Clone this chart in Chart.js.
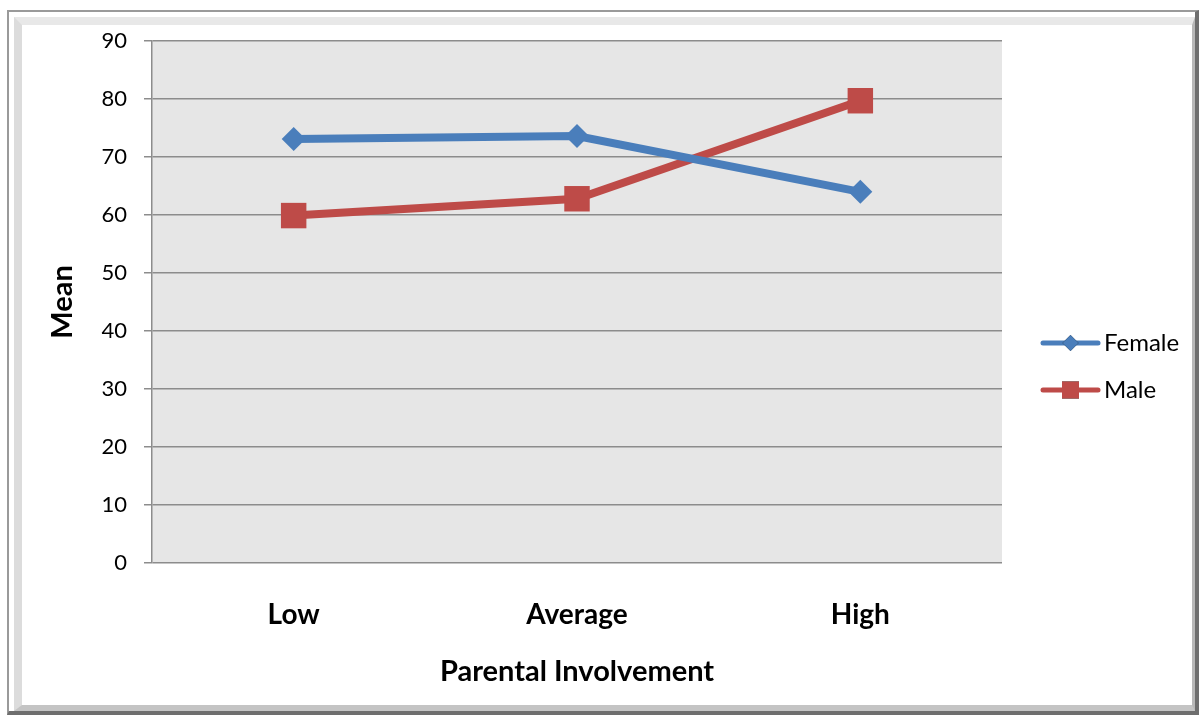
<!DOCTYPE html>
<html>
<head>
<meta charset="utf-8">
<script src="https://cdn.jsdelivr.net/npm/chart.js@4/dist/chart.umd.min.js"></script>
<style>
  html, body { margin: 0; padding: 0; background: #fff; overflow: hidden; }
  #frame {
    position: absolute; left: 7px; top: 10px; width: 1186px; height: 699px;
    border-left: 2px solid #9a9a9a; border-top: 2px solid #9a9a9a;
    border-right: 4px solid #6e6e6e; border-bottom: 4px solid #6e6e6e;
    background: #fff;
  }
  #bevel {
    position: absolute; left: 5px; top: 5px; right: 0; bottom: 0;
    border-left: 8px solid #dcdcdc; border-top: 8px solid #e8e8e8;
    border-right: 3px solid #b8b8b8; border-bottom: 6px solid #c4c4c4;
    box-sizing: border-box;
  }
  #c { position: absolute; left: 0; top: 0; }
</style>
</head>
<body>
<div id="frame"><div id="bevel"></div></div>
<canvas id="c" width="1202" height="718"></canvas>
<script>
// Mean score by level of parental involvement, split by gender
const categories = ['Low', 'Average', 'High'];
const femaleMeans = [73.1, 73.6, 64.0];
const maleMeans = [59.9, 62.8, 79.7];
const yTicks = [0, 10, 20, 30, 40, 50, 60, 70, 80, 90];

const FONT = 'Lato, "Open Sans", sans-serif';
const BLUE = '#4A7EBB';
const RED = '#BE4B48';

// Light grey plot background
const plotBg = {
  id: 'plotBg',
  beforeDraw(chart) {
    const { ctx, chartArea: a } = chart;
    ctx.save();
    ctx.fillStyle = '#E6E6E6';
    ctx.fillRect(a.left, a.top, a.right - a.left, a.bottom - a.top);
    ctx.restore();
  }
};

// Legend with a line segment through each marker
const lineLegend = {
  id: 'lineLegend',
  afterDraw(chart) {
    const { ctx } = chart;
    const x0 = 1043, x1 = 1098, tx = 1104;
    const ys = [343, 390];
    chart.data.datasets.forEach((ds, i) => {
      const y = ys[i];
      ctx.save();
      ctx.strokeStyle = ds.borderColor;
      ctx.lineWidth = 5;
      ctx.lineCap = 'round';
      ctx.beginPath();
      ctx.moveTo(x0, y);
      ctx.lineTo(x1, y);
      ctx.stroke();
      Chart.helpers.drawPoint(ctx, {
        pointStyle: ds.pointStyle,
        radius: ds.pointStyle === 'rect' ? 12 : 8,
        borderWidth: 0
      }, (x0 + x1) / 2, y);
      ctx.fillStyle = ds.backgroundColor;
      ctx.fill();
      ctx.fillStyle = '#000';
      ctx.font = '24px ' + FONT;
      ctx.textBaseline = 'middle';
      ctx.textAlign = 'left';
      ctx.fillText(ds.label, tx, y);
      ctx.restore();
    });
  }
};

new Chart(document.getElementById('c'), {
  type: 'line',
  data: {
    labels: categories,
    datasets: [
      {
        label: 'Female',
        data: femaleMeans,
        borderColor: BLUE,
        backgroundColor: BLUE,
        borderWidth: 8,
        pointStyle: 'rectRot',
        pointRadius: 12,
        pointHoverRadius: 12,
        pointBorderWidth: 0,
        tension: 0
      },
      {
        label: 'Male',
        data: maleMeans,
        borderColor: RED,
        backgroundColor: RED,
        borderWidth: 8,
        pointStyle: 'rect',
        pointRadius: 18,
        pointHoverRadius: 18,
        pointBorderWidth: 0,
        tension: 0
      }
    ]
  },
  options: {
    responsive: false,
    animation: false,
    events: [],
    layout: { padding: { left: 40, right: 200, top: 41, bottom: 20 } },
    plugins: {
      legend: { display: false },
      tooltip: { enabled: false }
    },
    scales: {
      x: {
        offset: true,
        grid: { display: false, drawTicks: false },
        border: { display: false },
        ticks: {
          padding: 35,
          color: '#000',
          font: { family: FONT, size: 28, weight: 'bold' }
        },
        title: {
          display: true,
          text: 'Parental Involvement',
          color: '#000',
          font: { family: FONT, size: 29, weight: 'bold' },
          padding: { top: 0, bottom: 9 }
        },
        afterFit(scale) { scale.height = 135; }
      },
      y: {
        min: 0,
        max: 90,
        afterBuildTicks(scale) { scale.ticks = yTicks.map(v => ({ value: v })); },
        grid: { color: '#8C8C8C', lineWidth: 1.5, tickLength: 8 },
        border: { color: '#8C8C8C', width: 1.5 },
        ticks: {
          padding: 17,
          color: '#000',
          font: { family: FONT, size: 22 }
        },
        title: {
          display: true,
          text: 'Mean',
          color: '#000',
          font: { family: FONT, size: 29, weight: 'bold' },
          padding: { top: 5, bottom: 0 }
        },
        afterFit(scale) { scale.width = 112; }
      }
    }
  },
  plugins: [plotBg, lineLegend]
});
</script>
</body>
</html>
